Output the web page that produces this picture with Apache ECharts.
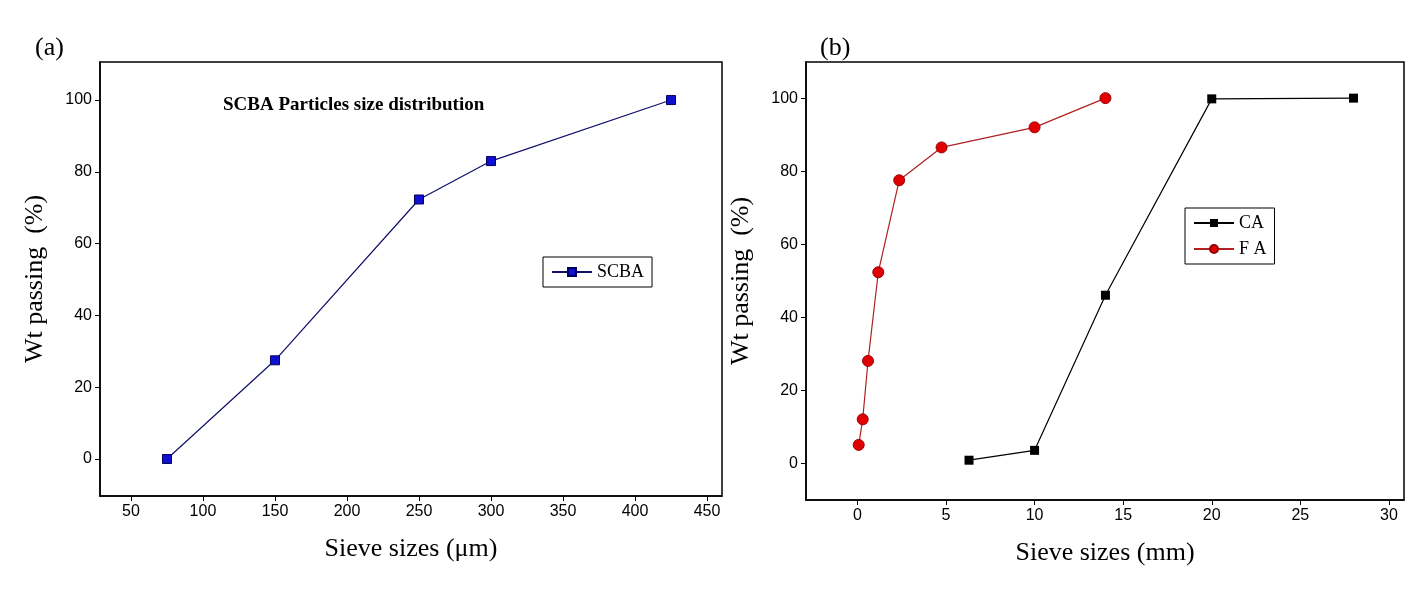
<!DOCTYPE html><html><head><meta charset="utf-8"><script src="https://cdn.jsdelivr.net/npm/echarts@6/dist/echarts.min.js"></script></head><body style="margin:0;background:#fff"><div id="c" style="width:1420px;height:600px"></div><script>
const scbaX=[75,150,250,300,425];
const scbaY=[0,27.5,72.3,83,100];
const caX=[6.3,10,14,20,28];
const caY=[0.8,3.5,46,99.8,100];
const faX=[0.075,0.3,0.6,1.18,2.36,4.75,10,14];
const faY=[5,12,28,52.3,77.5,86.5,92,100];
const leftXTicks=[50,100,150,200,250,300,350,400,450];
const rightXTicks=[0,5,10,15,20,25,30];
const yTicks=[0,20,40,60,80,100];
const pair=(xs,ys)=>xs.map((x,i)=>[x,ys[i]]);
const lab={color:'#000',fontSize:16,fontFamily:'Liberation Sans'};
const nm={color:'#000',fontSize:26,fontFamily:'Liberation Serif'};
const line={onZero:false,lineStyle:{color:'#000',width:1.5}};
function xa(gi,min,max,ticks,name){return {gridIndex:gi,type:'value',min,max,name,nameLocation:'middle',nameGap:40,nameTextStyle:nm,axisLine:line,splitLine:{show:false},axisTick:{customValues:ticks,lineStyle:{color:'#000'}},axisLabel:Object.assign({customValues:ticks},lab)};}
function ya(gi,min,max){return {gridIndex:gi,type:'value',min,max,name:'Wt passing  (%)',nameLocation:'middle',nameGap:52,nameTextStyle:nm,axisLine:line,splitLine:{show:false},axisTick:{customValues:yTicks,lineStyle:{color:'#000'}},axisLabel:Object.assign({customValues:yTicks},lab)};}
const ch=echarts.init(document.getElementById('c'));
ch.setOption({animation:false,
title:[{text:'(a)',left:30,top:30,textStyle:{fontFamily:'Liberation Serif',fontSize:26,fontWeight:'normal',color:'#000'}},
{text:'(b)',left:815,top:30,textStyle:{fontFamily:'Liberation Serif',fontSize:26,fontWeight:'normal',color:'#000'}},
{text:'SCBA Particles size distribution',left:218,top:91,textStyle:{fontFamily:'Liberation Serif',fontSize:19,fontWeight:'bold',color:'#000'}}],
grid:[{left:100,width:622,top:62,height:434,show:true,borderColor:'#000',borderWidth:1.5},
{left:806,width:598,top:62,height:438,show:true,borderColor:'#000',borderWidth:1.5}],
xAxis:[xa(0,28.5,460.4,leftXTicks,'Sieve sizes (μm)'),xa(1,-2.9,30.85,rightXTicks,'Sieve sizes (mm)')],
yAxis:[ya(0,-10.3,110.6),ya(1,-10.1,109.9)],
legend:[{data:['SCBA'],left:543,top:257,orient:'vertical',itemWidth:40,itemHeight:10,borderColor:'#000',borderWidth:1,padding:[6,8],textStyle:{fontFamily:'Liberation Serif',fontSize:18,color:'#000'}},
{data:['CA','F A'],left:1185,top:208,orient:'vertical',itemWidth:40,itemHeight:10,itemGap:8,borderColor:'#000',borderWidth:1,padding:[6,8],textStyle:{fontFamily:'Liberation Serif',fontSize:18,color:'#000'}}],
series:[
{name:'SCBA',type:'line',xAxisIndex:0,yAxisIndex:0,data:pair(scbaX,scbaY),symbol:'rect',symbolSize:9,itemStyle:{color:'#1010d0',borderColor:'#000060',borderWidth:1},lineStyle:{color:'#10106a',width:1.2}},
{name:'CA',type:'line',xAxisIndex:1,yAxisIndex:1,data:pair(caX,caY),symbol:'rect',symbolSize:9,itemStyle:{color:'#000'},lineStyle:{color:'#000',width:1.2}},
{name:'F A',type:'line',xAxisIndex:1,yAxisIndex:1,data:pair(faX,faY),symbol:'circle',symbolSize:11,itemStyle:{color:'#e00000',borderColor:'#900',borderWidth:1},lineStyle:{color:'#b02020',width:1.2}}
]});
</script></body></html>
